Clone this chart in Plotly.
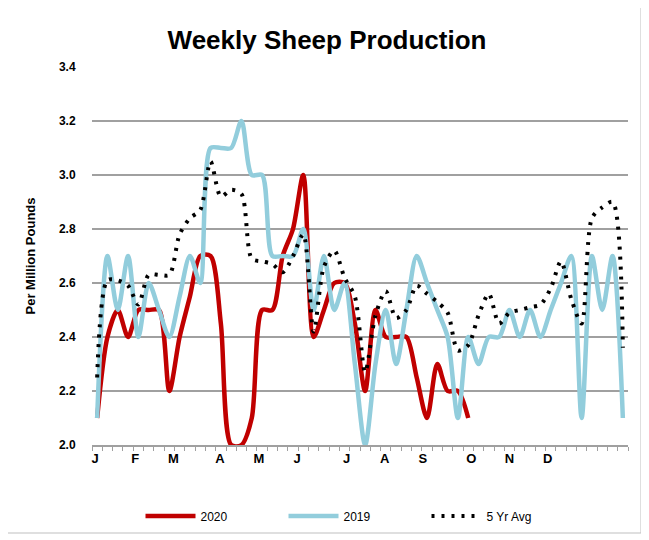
import plotly.graph_objects as go

weeks = list(range(1, 53))

sheep_2020 = [2.1, 2.4, 2.5, 2.4, 2.5, 2.5, 2.5, 2.2, 2.4, 2.55, 2.7, 2.7, 2.45, 2.0, 2.0, 2.1,
              2.5, 2.5, 2.7, 2.8, 3.0, 2.4, 2.5, 2.6, 2.6, 2.45, 2.2, 2.5, 2.4, 2.4, 2.4, 2.25,
              2.1, 2.3, 2.2, 2.2, 2.1]

sheep_2019 = [2.1, 2.7, 2.5, 2.7, 2.4, 2.6, 2.5, 2.4, 2.55, 2.7, 2.6, 3.1, 3.1, 3.1, 3.2, 3.0,
              3.0, 2.7, 2.7, 2.7, 2.8, 2.5, 2.7, 2.5, 2.6, 2.3, 2.0, 2.3, 2.5, 2.3, 2.5, 2.7,
              2.6, 2.5, 2.4, 2.1, 2.4, 2.3, 2.4, 2.4, 2.5, 2.4, 2.5, 2.4, 2.5, 2.6, 2.7, 2.1,
              2.7, 2.5, 2.7, 2.1]

avg_5yr = [2.25, 2.61, 2.61, 2.59, 2.52, 2.63, 2.63, 2.63, 2.78, 2.84, 2.87, 3.05, 2.92, 2.945,
           2.93, 2.69, 2.68, 2.67, 2.64, 2.70, 2.78, 2.42, 2.66, 2.72, 2.62, 2.55, 2.27, 2.48,
           2.57, 2.47, 2.50, 2.59, 2.56, 2.53, 2.49, 2.35, 2.37, 2.48, 2.56, 2.45, 2.49, 2.50,
           2.51, 2.52, 2.58, 2.68, 2.54, 2.45, 2.84, 2.88, 2.90, 2.36]

month_labels = ["J", "F", "M", "A", "M", "J", "J", "A", "S", "O", "N", "D"]
month_pos = [0.8, 4.7, 8.4, 12.9, 16.7, 20.4, 25.2, 28.9, 32.6, 37.3, 41.0, 44.7]

# page body has an 8px margin; work in screen coords and shift
OFF = 8
W, H = 649 - OFF, 540 - OFF
PL, PR, PT, PB = 92, 628, 67, 445          # plot area in screen pixels
L, R, T, B = PL - OFF, W - (PR - OFF), PT - OFF, H - (PB - OFF)
pw, ph = W - L - R, H - T - B

def px_x(x):
    return (x - OFF - L) / pw

def px_y(y):
    return (H - B - (y - OFF)) / ph

fig = go.Figure()
fig.add_trace(go.Scatter(x=weeks[:len(sheep_2020)], y=sheep_2020, name="2020", mode="lines",
                         line=dict(color="#C00000", width=4.5, shape="spline", smoothing=0.8)))
fig.add_trace(go.Scatter(x=weeks, y=sheep_2019, name="2019", mode="lines",
                         line=dict(color="#92CDDC", width=4.5, shape="spline", smoothing=0.8)))
fig.add_trace(go.Scatter(x=weeks, y=avg_5yr, name="5 Yr Avg", mode="lines",
                         line=dict(color="#000000", width=4, dash="3px,7px", shape="spline", smoothing=0.8)))

fig.update_layout(
    width=W, height=H,
    margin=dict(l=L, r=R, t=T, b=B, autoexpand=False),
    paper_bgcolor="white", plot_bgcolor="white",
    font=dict(family="Liberation Sans, Arial", color="#000000"),
    title=dict(text="<b>Weekly Sheep Production</b>", font=dict(size=26, color="#000000"),
               x=px_x(327), xref="paper", xanchor="center",
               y=1 - (40 - OFF) / H, yref="container", yanchor="middle"),
    showlegend=True,
    legend=dict(orientation="h", x=px_x(355), xanchor="center", y=px_y(516), yanchor="middle",
                font=dict(size=12), entrywidth=78, entrywidthmode="pixels",
                itemwidth=50, tracegroupgap=0, bgcolor="rgba(0,0,0,0)"),
    shapes=[
        dict(type="line", xref="paper", yref="paper",
             x0=px_x(641), x1=px_x(641), y0=px_y(533), y1=px_y(8),
             line=dict(color="#bfbfbf", width=1), layer="below"),
        dict(type="line", xref="paper", yref="paper",
             x0=px_x(8), x1=px_x(641), y0=px_y(533), y1=px_y(533),
             line=dict(color="#bfbfbf", width=1), layer="below"),
    ],
)

fig.update_xaxes(range=[0.5, 52.5], tickmode="array", tickvals=month_pos, ticktext=month_labels,
                 ticks="", tickfont=dict(size=13, weight="bold"), automargin=False,
                 showgrid=False, zeroline=False, showline=True, linecolor="#a0a0a0", linewidth=2,
                 minor=dict(tickmode="linear", tick0=0.5, dtick=1, ticks="outside", ticklen=4,
                            tickcolor="#a0a0a0", tickwidth=1, showgrid=False))
fig.update_yaxes(range=[2.0, 3.4], tickmode="linear", tick0=2.0, dtick=0.2, tickformat=".1f",
                 tickfont=dict(size=12, weight="bold"), ticks="outside", ticklen=13,
                 tickcolor="rgba(0,0,0,0)", automargin=False,
                 showgrid=True, gridcolor="#a0a0a0", gridwidth=2, zeroline=False, showline=False,
                 title=dict(text="<b>Per Million Pounds</b>", font=dict(size=13), standoff=20))

fig.write_html("out.html")
